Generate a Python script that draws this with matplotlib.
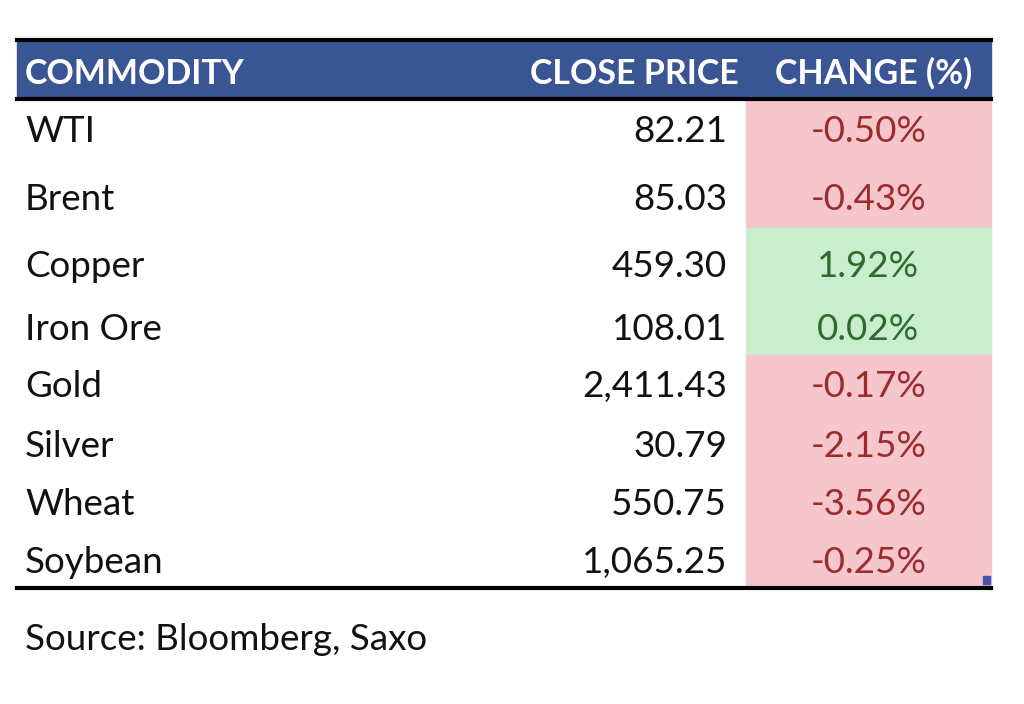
import matplotlib.pyplot as plt
from matplotlib.patches import Rectangle

commodities = ['WTI', 'Brent', 'Copper', 'Iron Ore', 'Gold', 'Silver', 'Wheat', 'Soybean']
close_price = [82.21, 85.03, 459.30, 108.01, 2411.43, 30.79, 550.75, 1065.25]
change_pct = [-0.50, -0.43, 1.92, 0.02, -0.17, -2.15, -3.56, -0.25]
headers = ['COMMODITY', 'CLOSE PRICE', 'CHANGE (%)']
source = 'Source: Bloomberg, Saxo'

plt.rcParams['font.family'] = ['Lato', 'DejaVu Sans']

# layout in pixels
left, right = 17, 991
chg_left = 746
price_right = 727
row_edges = [100, 165, 228, 296, 355, 415, 474, 531, 587]
baselines = [142, 210, 277, 340, 397, 457, 515, 573]
fs = 26.5
hfs = 24.5

fig = plt.figure(figsize=(10.24, 7.04), dpi=100)
ax = fig.add_axes([0, 0, 1, 1])
ax.set_xlim(0, 1024)
ax.set_ylim(704, 0)
ax.axis('off')

# header
ax.add_patch(Rectangle((left, 40), right - left, 58, color='#3A5594', zorder=1))
ax.plot([left, right], [39.5, 39.5], color='black', lw=3, zorder=3)
ax.plot([left, right], [98.5, 98.5], color='black', lw=3, zorder=3)
hy = 84
ax.text(25, hy, headers[0], color='white', fontsize=hfs, fontweight='bold', va='baseline', ha='left')
ax.text(price_right + 12, hy, headers[1], color='white', fontsize=hfs, fontweight='bold', va='baseline', ha='right')
ax.text(972, hy, headers[2], color='white', fontsize=hfs, fontweight='bold', va='baseline', ha='right')

for i, name in enumerate(commodities):
    top, bot = row_edges[i], row_edges[i + 1]
    yb = baselines[i]
    chg = change_pct[i]
    if chg < 0:
        bg, fg = '#F5C6CB', '#9C2B2B'
    else:
        bg, fg = '#C9EECD', '#2F6B2C'
    ax.add_patch(Rectangle((chg_left, top), right - chg_left, bot - top, color=bg, zorder=1))
    ax.text(25, yb, name, fontsize=fs, va='baseline', ha='left', color='#111111')
    ax.text(price_right, yb, f'{close_price[i]:,.2f}', fontsize=fs, va='baseline', ha='right', color='#111111')
    ax.text((chg_left + right) / 2, yb, f'{chg:.2f}%', fontsize=fs, va='baseline', ha='center', color=fg)

ax.plot([left, right], [588, 588], color='black', lw=3, zorder=3)
ax.add_patch(Rectangle((983, 576), 7, 8, color='#4455AA', zorder=4))

ax.text(25, 650, source, fontsize=fs, va='baseline', ha='left', color='#111111')

fig.savefig('out.png', dpi=100)
